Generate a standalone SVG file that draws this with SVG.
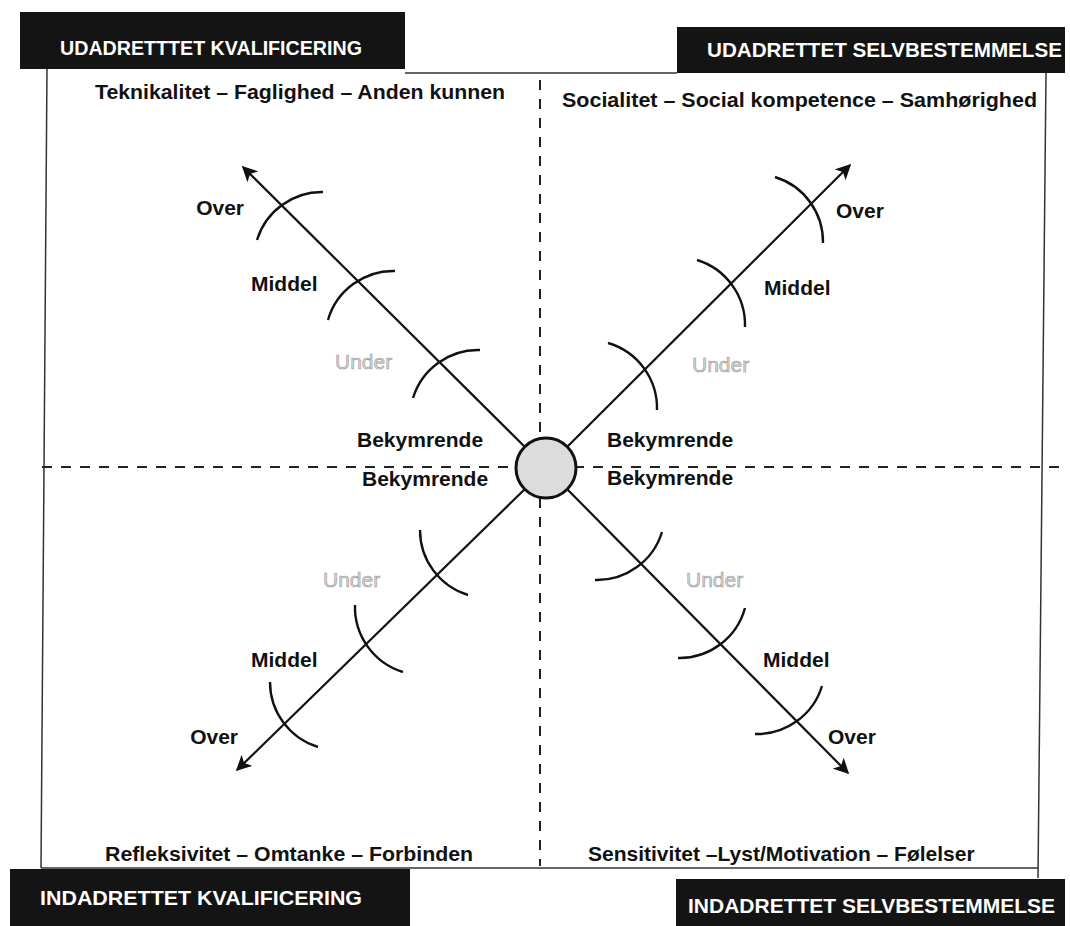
<svg xmlns="http://www.w3.org/2000/svg" width="1070" height="926" viewBox="0 0 1070 926">
<defs>
<style>
.hdr{fill:#141414}
.hdrt{font-family:"Liberation Sans",Arial,sans-serif;font-weight:bold;font-size:20px;fill:#ffffff}
.cat{font-family:"Liberation Sans",Arial,sans-serif;font-weight:bold;font-size:21px;fill:#111}
.lbl{font-family:"Liberation Sans",Arial,sans-serif;font-weight:bold;font-size:21px;fill:#111}
.und{font-family:"Liberation Sans",Arial,sans-serif;font-size:21px;fill:#d6d6d6;stroke:#9a9a9a;stroke-width:0.6}
.frame{stroke:#333;stroke-width:1.5;fill:none}
.dash{stroke:#222;stroke-width:2;stroke-dasharray:10 9;fill:none}
.axis{stroke:#111;stroke-width:2.2;fill:none;marker-end:url(#ah)}
.arc{stroke:#111;stroke-width:2.4;fill:none}
</style>
<marker id="ah" viewBox="0 0 10 10" refX="9" refY="5" markerWidth="7" markerHeight="7" orient="auto" markerUnits="strokeWidth">
<path d="M0,0 L10,5 L0,10 L2.5,5 Z" fill="#111"/>
</marker>
</defs>
<rect width="1070" height="926" fill="#ffffff"/>

<g id="frame">
<line class="frame" x1="405" y1="73" x2="677" y2="73"/>
<line class="frame" x1="47" y1="68" x2="41" y2="868"/>
<line class="frame" x1="1046" y1="73" x2="1038" y2="878"/>
<line class="frame" x1="41" y1="868" x2="1038" y2="868"/>
</g>

<g id="connectors">
<line class="dash" x1="540" y1="80" x2="540" y2="866"/>
<line class="dash" x1="42" y1="467" x2="1066" y2="467"/>
<line class="axis" x1="525" y1="447" x2="243" y2="167"/>
<line class="axis" x1="567" y1="447" x2="850" y2="165"/>
<line class="axis" x1="525" y1="489" x2="237" y2="770"/>
<line class="axis" x1="567" y1="489" x2="848" y2="773"/>
<path class="arc" d="M257,240 A68,68 0 0 1 323,192"/>
<path class="arc" d="M328,320 A68,68 0 0 1 395,271"/>
<path class="arc" d="M413,398 A68,68 0 0 1 480,350"/>
<path class="arc" d="M775,177 A68,68 0 0 1 823,243"/>
<path class="arc" d="M697,260 A68,68 0 0 1 745,327"/>
<path class="arc" d="M608,343 A68,68 0 0 1 657,410"/>
<path class="arc" d="M468,595 A68,68 0 0 1 420,530"/>
<path class="arc" d="M403,672 A68,68 0 0 1 355,605"/>
<path class="arc" d="M318,747 A68,68 0 0 1 270,682"/>
<path class="arc" d="M662,532 A68,68 0 0 1 595,580"/>
<path class="arc" d="M745,608 A68,68 0 0 1 678,658"/>
<path class="arc" d="M822,686 A68,68 0 0 1 755,734"/>
</g>

<g id="center">
<circle cx="546" cy="468" r="30" fill="#dcdcdc" stroke="#111" stroke-width="3"/>
</g>

<g id="hdr-tl">
<rect class="hdr" x="20" y="12" width="385" height="57"/>
<text class="hdrt" x="60" y="55" textLength="302" lengthAdjust="spacingAndGlyphs">UDADRETTTET KVALIFICERING</text>
</g>
<g id="hdr-tr">
<rect class="hdr" x="677" y="27" width="388" height="46"/>
<text class="hdrt" x="707" y="57" textLength="355" lengthAdjust="spacingAndGlyphs">UDADRETTET SELVBESTEMMELSE</text>
</g>
<g id="hdr-bl">
<rect class="hdr" x="10" y="869" width="400" height="57"/>
<text class="hdrt" x="40" y="905" textLength="322" lengthAdjust="spacingAndGlyphs">INDADRETTET KVALIFICERING</text>
</g>
<g id="hdr-br">
<rect class="hdr" x="676" y="879" width="389" height="47"/>
<text class="hdrt" x="688" y="913" textLength="367" lengthAdjust="spacingAndGlyphs">INDADRETTET SELVBESTEMMELSE</text>
</g>

<g id="cat-tl"><text class="cat" x="95" y="99" textLength="410" lengthAdjust="spacingAndGlyphs">Teknikalitet – Faglighed – Anden kunnen</text></g>
<g id="cat-tr"><text class="cat" x="562" y="107" textLength="475" lengthAdjust="spacingAndGlyphs">Socialitet – Social kompetence – Samhørighed</text></g>
<g id="cat-bl"><text class="cat" x="105" y="861" textLength="368" lengthAdjust="spacingAndGlyphs">Refleksivitet – Omtanke – Forbinden</text></g>
<g id="cat-br"><text class="cat" x="588" y="861">Sensitivitet –Lyst/Motivation – Følelser</text></g>

<g id="labels-nw">
<text class="lbl" x="244" y="215" text-anchor="end">Over</text>
<text class="lbl" x="251" y="291">Middel</text>
<text class="und" x="335" y="369">Under</text>
<text class="lbl" x="357" y="447">Bekymrende</text>
</g>
<g id="labels-ne">
<text class="lbl" x="836" y="218">Over</text>
<text class="lbl" x="764" y="295">Middel</text>
<text class="und" x="692" y="372">Under</text>
<text class="lbl" x="607" y="447">Bekymrende</text>
</g>
<g id="labels-sw">
<text class="lbl" x="362" y="486">Bekymrende</text>
<text class="und" x="323" y="587">Under</text>
<text class="lbl" x="251" y="667">Middel</text>
<text class="lbl" x="238" y="744" text-anchor="end">Over</text>
</g>
<g id="labels-se">
<text class="lbl" x="607" y="485">Bekymrende</text>
<text class="und" x="686" y="587">Under</text>
<text class="lbl" x="763" y="667">Middel</text>
<text class="lbl" x="828" y="744">Over</text>
</g>
</svg>
